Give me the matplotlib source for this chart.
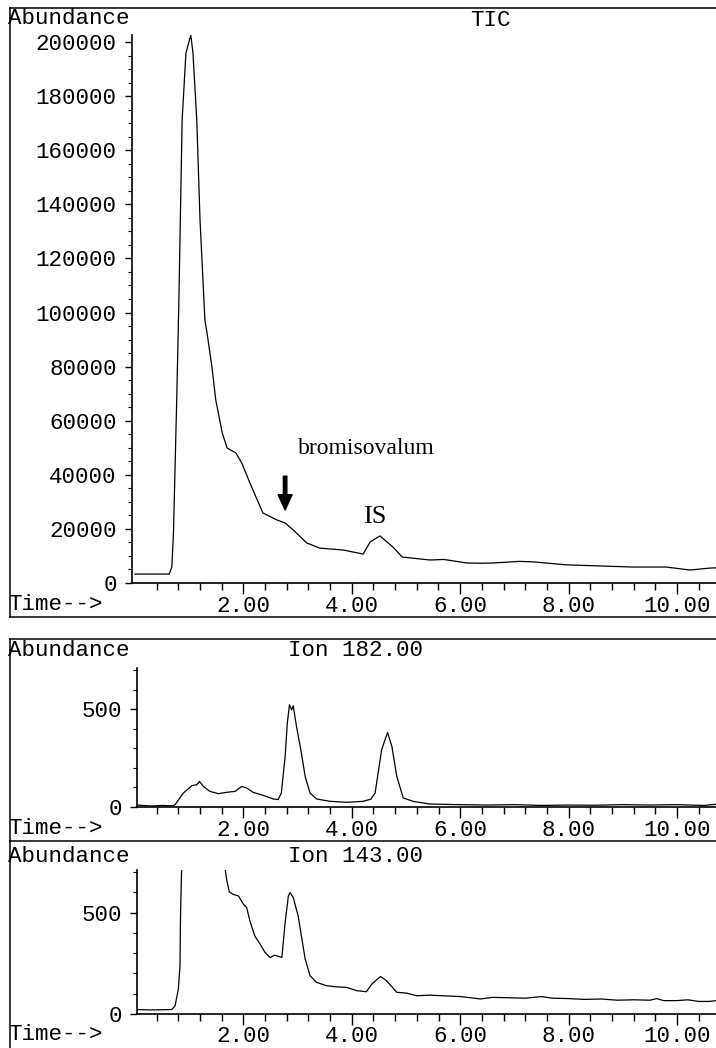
import numpy as np
import matplotlib
matplotlib.use("Agg")
import matplotlib.pyplot as plt
from matplotlib.lines import Line2D
from matplotlib.ticker import FixedLocator, FuncFormatter

# chromatogram traces (time in min, abundance)
tic_time = [0.0, 0.3, 0.63, 0.68, 0.71, 0.77, 0.81, 0.87, 0.94, 1.03, 1.07, 1.14, 1.20,
            1.29, 1.33, 1.42, 1.49, 1.61, 1.70, 1.86, 1.97, 2.12, 2.36, 2.62, 2.77, 2.92,
            3.17, 3.41, 3.84, 4.21, 4.34, 4.52, 4.76, 4.93, 5.44, 5.70, 6.12, 6.40, 6.61,
            7.10, 7.35, 7.97, 8.58, 9.19, 9.80, 10.24, 10.60, 10.72]
tic_abund = [3300, 3300, 3300, 5900, 18500, 67700, 104600, 171200, 195900, 202600, 195900,
             171200, 134200, 97200, 92400, 79900, 67700, 55500, 49900, 48100, 44400, 37000,
             25900, 23300, 22200, 19600, 14800, 12900, 12200, 10700, 15200, 17400, 13300,
             9600, 8500, 8700, 7400, 7300, 7400, 8000, 7800, 6700, 6300, 5900, 5900, 4800,
             5500, 5600]

ion182_time = [0.04, 0.30, 0.50, 0.70, 0.74, 0.89, 1.05, 1.14, 1.19, 1.26, 1.38, 1.54, 1.69,
               1.85, 1.97, 2.06, 2.18, 2.37, 2.55, 2.64, 2.70, 2.77, 2.81, 2.85, 2.89, 2.92,
               2.98, 3.06, 3.14, 3.23, 3.35, 3.60, 3.91, 4.21, 4.35, 4.43, 4.55, 4.66, 4.74,
               4.83, 4.95, 5.13, 5.44, 6.0, 6.5, 7.0, 7.5, 8.0, 8.5, 9.0, 9.5, 10.0, 10.5, 10.72]
ion182_abund = [10, 5, 8, 6, 12, 71, 109, 114, 131, 105, 80, 68, 75, 80, 105, 97, 75, 59, 41,
                38, 71, 258, 428, 522, 496, 517, 411, 292, 156, 71, 41, 29, 24, 29, 40, 71,
                292, 381, 309, 156, 46, 29, 15, 12, 10, 12, 8, 10, 9, 12, 10, 12, 8, 14]

ion143_time = [0.04, 0.30, 0.68, 0.74, 0.80, 0.83, 0.84, 0.86, 0.90, 1.20, 1.55, 1.66, 1.69,
               1.74, 1.81, 1.91, 2.00, 2.06, 2.12, 2.21, 2.31, 2.40, 2.49, 2.58, 2.71, 2.77,
               2.83, 2.86, 2.92, 3.01, 3.08, 3.14, 3.23, 3.35, 3.54, 3.72, 3.91, 4.09, 4.27,
               4.37, 4.53, 4.64, 4.83, 5.01, 5.20, 5.44, 6.0, 6.2, 6.37, 6.6, 6.9, 7.2, 7.5,
               7.7, 8.0, 8.3, 8.6, 8.9, 9.2, 9.5, 9.63, 9.75, 10.0, 10.2, 10.4, 10.6, 10.72]
ion143_abund = [22, 20, 22, 41, 123, 238, 484, 713, 1500, 3000, 1000, 722, 664, 602, 590, 582,
                541, 525, 459, 385, 344, 303, 279, 290, 279, 451, 582, 599, 574, 484, 369,
                271, 189, 156, 139, 134, 131, 115, 110, 148, 185, 164, 107, 103, 90, 93, 86,
                80, 74, 82, 80, 78, 86, 78, 76, 72, 74, 68, 70, 68, 76, 66, 66, 70, 62, 62, 66]

x_major = [2, 4, 6, 8, 10]
x_minor = [0.4, 0.8, 1.2, 1.6, 2.4, 2.8, 3.2, 3.6, 4.4, 4.8, 5.2, 5.6, 6.4, 6.8, 7.2, 7.6,
           8.4, 8.8, 9.2, 9.6, 10.4]

W, H = 716, 1048
MONO = "Liberation Mono"
SERIF = "Liberation Serif"
FS = 16.2

fig = plt.figure(figsize=(W / 100, H / 100), dpi=100)


def px_axes(x0, x1, ytop, ybot):
    return fig.add_axes([x0 / W, 1 - ybot / H, (x1 - x0) / W, (ybot - ytop) / H])


def fig_line(xs, ys):
    fig.add_artist(Line2D([x / W for x in xs], [1 - y / H for y in ys],
                          transform=fig.transFigure, color="black", lw=1.1))


def fig_text(x, y, s, **kw):
    fig.text(x / W, 1 - y / H, s, family=MONO, fontsize=FS, va="center", **kw)


def style(ax, xlim, ylim, y_major, y_minor):
    ax.set_xlim(*xlim)
    ax.set_ylim(*ylim)
    for side in ["top", "right"]:
        ax.spines[side].set_visible(False)
    for side in ["left", "bottom"]:
        ax.spines[side].set_linewidth(1.2)
    ax.xaxis.set_major_locator(FixedLocator(x_major))
    ax.xaxis.set_minor_locator(FixedLocator(x_minor))
    ax.xaxis.set_major_formatter(FuncFormatter(lambda v, p: f"{v:.2f}"))
    ax.yaxis.set_major_locator(FixedLocator(y_major))
    ax.yaxis.set_minor_locator(FixedLocator(y_minor))
    ax.yaxis.set_major_formatter(FuncFormatter(lambda v, p: f"{v:.0f}"))
    ax.tick_params(axis="x", which="major", direction="out", length=8, width=1, pad=1.0)
    ax.tick_params(axis="x", which="minor", direction="out", length=5, width=1)
    ax.tick_params(axis="y", which="major", direction="out", length=5, width=1, pad=6.0)
    ax.tick_params(axis="y", which="minor", direction="out", length=3, width=0.8)
    for lab in ax.get_xticklabels() + ax.get_yticklabels():
        lab.set_family(MONO)
        lab.set_fontsize(FS)
    ax.patch.set_alpha(0)


# TIC panel
ax1 = px_axes(132, 716, 35, 583)
ax1.plot(tic_time, tic_abund, color="black", lw=0.9)
style(ax1, (-0.055, 10.72), (0, 202600), np.arange(0, 200001, 20000),
      [v for v in range(0, 202001, 5000) if v % 20000])
ax1.text(4.26, 49900, "bromisovalum", family=SERIF, fontsize=17, ha="center", va="center")
ax1.text(4.43, 24300, "IS", family=SERIF, fontsize=19, ha="center", va="center")
ax1.annotate("", xy=(2.77, 27000), xytext=(2.77, 39500),
             arrowprops=dict(facecolor="black", edgecolor="black", width=2.5,
                             headwidth=10, headlength=11, shrink=0))

# Ion 182 panel
ax2 = px_axes(137, 716, 668, 807)
ax2.plot(ion182_time, ion182_abund, color="black", lw=0.9)
style(ax2, (0.037, 10.72), (0, 710), [0, 500], [100, 200, 300, 400, 600, 700])

# Ion 143 panel
ax3 = px_axes(137, 716, 870, 1014)
ax3.plot(ion143_time, ion143_abund, color="black", lw=0.9)
style(ax3, (0.037, 10.72), (0, 710), [0, 500], [100, 200, 300, 400, 600, 700])

# panel frames
fig_line([10, 716], [8, 8])
fig_line([10, 10], [8, 617])
fig_line([10, 716], [617, 617])
fig_line([10, 716], [639, 639])
fig_line([10, 10], [639, 841])
fig_line([10, 716], [841, 841])
fig_line([10, 10], [841, 1048])

# header and footer texts
fig_text(8, 18, "Abundance")
fig_text(490, 20, "TIC", ha="center")
fig_text(8, 605, "Time-->")
fig_text(8, 651, "Abundance")
fig_text(288, 651, "Ion 182.00")
fig_text(8, 828, "Time-->")
fig_text(8, 856, "Abundance")
fig_text(288, 856, "Ion 143.00")
fig_text(8, 1035, "Time-->")

fig.savefig("out.png", dpi=100)
